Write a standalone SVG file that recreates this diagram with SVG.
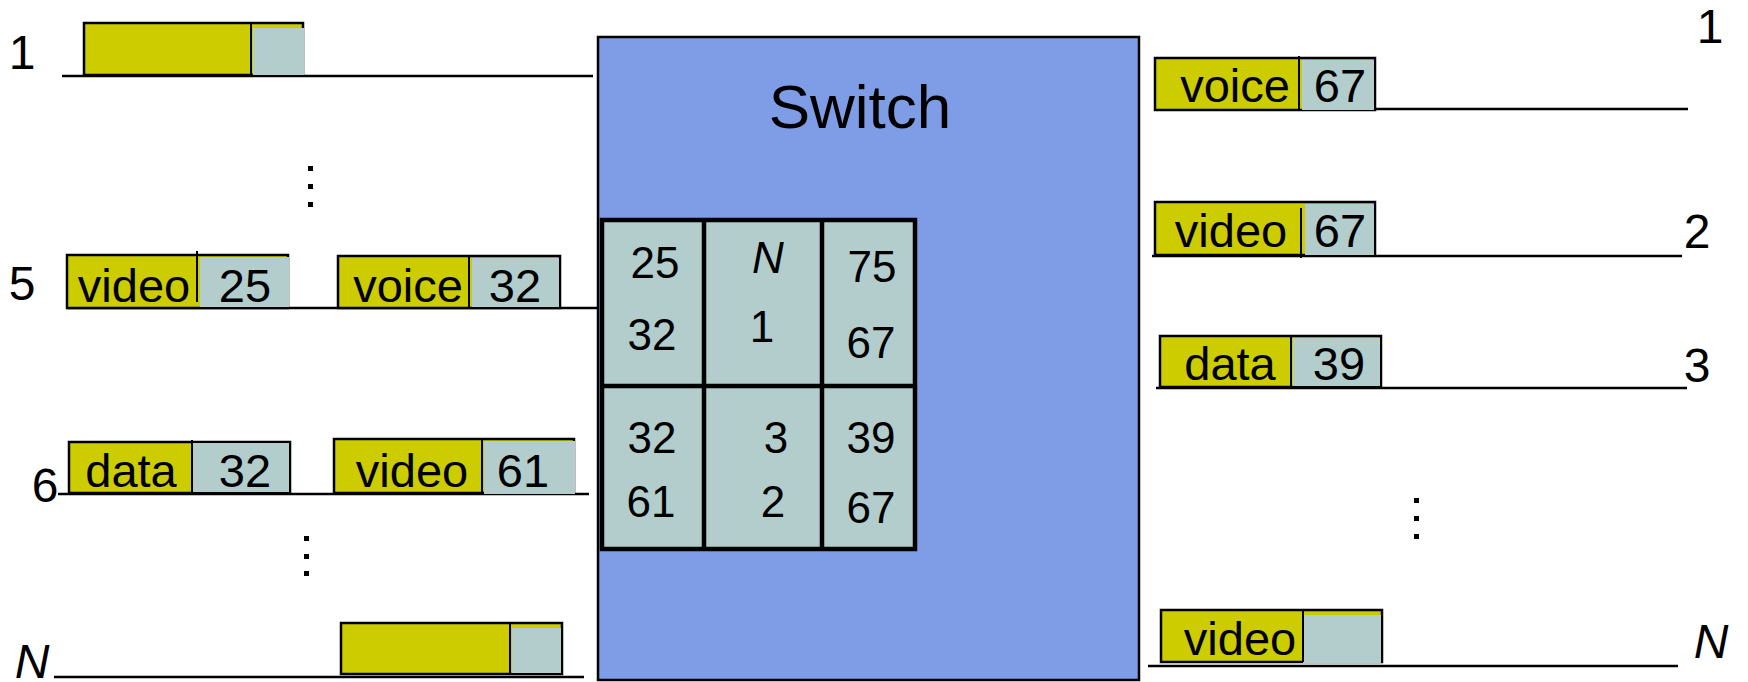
<svg xmlns="http://www.w3.org/2000/svg" width="1748" height="682" viewBox="0 0 1748 682">
<style>
text{font-family:"Liberation Sans",Arial,sans-serif;fill:#000}
.lbl{font-size:48px;text-anchor:middle}
.pt{font-size:47px;text-anchor:middle}
.tt{font-size:44px;text-anchor:middle}
.it{font-style:italic}
.y{fill:#cccc00;stroke:#000;stroke-width:2.5}
.g{fill:#b3cdcd;stroke:none}
.dv{stroke:#000;stroke-width:2}
.ln{stroke:#000;stroke-width:2.5;fill:none}
.dot{fill:#000}
</style>
<rect width="1748" height="682" fill="#fff"/>

<g id="switch">
<rect x="598" y="37" width="541" height="643" fill="#7f9ce6" stroke="#000" stroke-width="2.5"/>
<text x="860" y="128" style="font-size:62px;text-anchor:middle">Switch</text>
</g>

<g id="table">
<rect x="602" y="220" width="313" height="329" fill="#b3cdcd" stroke="#000" stroke-width="4.5"/>
<line x1="704" y1="220" x2="704" y2="549" stroke="#000" stroke-width="4.5"/>
<line x1="822" y1="220" x2="822" y2="549" stroke="#000" stroke-width="4.5"/>
<line x1="602" y1="386" x2="915" y2="386" stroke="#000" stroke-width="4.5"/>
<text class="tt" x="655" y="278">25</text>
<text class="tt" x="652" y="350">32</text>
<text class="tt it" x="768" y="273">N</text>
<text class="tt" x="762" y="342">1</text>
<text class="tt" x="872" y="282">75</text>
<text class="tt" x="871" y="358">67</text>
<text class="tt" x="652" y="453">32</text>
<text class="tt" x="651" y="517">61</text>
<text class="tt" x="776" y="453">3</text>
<text class="tt" x="773" y="517">2</text>
<text class="tt" x="871" y="453">39</text>
<text class="tt" x="871" y="523">67</text>
</g>

<g id="connectors">
<line class="ln" x1="62" y1="76" x2="593" y2="76"/>
<line class="ln" x1="67" y1="308" x2="599" y2="308"/>
<line class="ln" x1="58" y1="494" x2="589" y2="494"/>
<line class="ln" x1="54" y1="677" x2="584" y2="677"/>
<line class="ln" x1="1375" y1="109" x2="1688" y2="109"/>
<line class="ln" x1="1152" y1="256" x2="1682" y2="256"/>
<line class="ln" x1="1156" y1="388" x2="1687" y2="388"/>
<line class="ln" x1="1148" y1="666" x2="1678" y2="666"/>
</g>

<g id="labels">
<text class="lbl" x="22" y="69">1</text>
<text class="lbl" x="22" y="300">5</text>
<text class="lbl" x="45" y="502">6</text>
<text class="lbl it" x="32" y="678">N</text>
<text class="lbl" x="1710" y="43">1</text>
<text class="lbl" x="1697" y="248">2</text>
<text class="lbl" x="1697" y="382">3</text>
<text class="lbl it" x="1711" y="658">N</text>
</g>

<g id="dots">
<rect class="dot" x="308" y="166" width="5" height="5"/>
<rect class="dot" x="308" y="184" width="5" height="5"/>
<rect class="dot" x="308" y="202" width="5" height="5"/>
<rect class="dot" x="304" y="536" width="5" height="5"/>
<rect class="dot" x="304" y="554" width="5" height="5"/>
<rect class="dot" x="304" y="571" width="5" height="5"/>
<rect class="dot" x="1414" y="498" width="5" height="5"/>
<rect class="dot" x="1414" y="516" width="5" height="5"/>
<rect class="dot" x="1414" y="534" width="5" height="5"/>
</g>

<g id="in1">
<rect class="y" x="84" y="23" width="219" height="52"/>
<rect class="g" x="253" y="28" width="51" height="47"/>
<line class="dv" x1="251" y1="23" x2="251" y2="75"/>
</g>

<g id="in5a">
<rect class="y" x="67" y="255" width="221" height="53"/>
<rect class="g" x="200" y="257" width="89" height="50"/>
<line class="dv" x1="197" y1="251" x2="197" y2="302"/>
<text class="pt" x="134" y="302">video</text>
<text class="pt" x="245" y="302">25</text>
</g>

<g id="in5b">
<rect class="y" x="338" y="256" width="222" height="52"/>
<rect class="g" x="472" y="258" width="87" height="49"/>
<line class="dv" x1="469" y1="256" x2="469" y2="308"/>
<text class="pt" x="408" y="302">voice</text>
<text class="pt" x="515" y="302">32</text>
</g>

<g id="in6a">
<rect class="y" x="69" y="442" width="221" height="51"/>
<rect class="g" x="193" y="443" width="96" height="49"/>
<line class="dv" x1="192" y1="440" x2="192" y2="493"/>
<text class="pt" x="131" y="487">data</text>
<text class="pt" x="245" y="487">32</text>
</g>

<g id="in6b">
<rect class="y" x="334" y="439" width="240" height="54"/>
<rect class="g" x="484" y="441" width="91" height="53"/>
<line class="dv" x1="482" y1="439" x2="482" y2="493"/>
<text class="pt" x="412" y="487">video</text>
<text class="pt" x="523" y="487">61</text>
</g>

<g id="inN">
<rect class="y" x="341" y="623" width="221" height="51"/>
<rect class="g" x="512" y="628" width="49" height="45"/>
<line class="dv" x1="510" y1="623" x2="510" y2="674"/>
</g>

<g id="out1">
<rect class="y" x="1155" y="58" width="220" height="52"/>
<rect class="g" x="1302" y="60" width="72" height="50"/>
<line class="dv" x1="1299" y1="56" x2="1299" y2="110"/>
<text class="pt" x="1235" y="102">voice</text>
<text class="pt" x="1340" y="102">67</text>
</g>

<g id="out2">
<rect class="y" x="1155" y="202" width="220" height="53"/>
<rect class="g" x="1305" y="204" width="69" height="51"/>
<line class="dv" x1="1301" y1="208" x2="1301" y2="258"/>
<text class="pt" x="1231" y="247">video</text>
<text class="pt" x="1340" y="247">67</text>
</g>

<g id="out3">
<rect class="y" x="1160" y="336" width="221" height="51"/>
<rect class="g" x="1293" y="338" width="87" height="48"/>
<line class="dv" x1="1291" y1="336" x2="1291" y2="387"/>
<text class="pt" x="1230" y="380">data</text>
<text class="pt" x="1339" y="380">39</text>
</g>

<g id="outN">
<rect class="y" x="1161" y="610" width="221" height="52"/>
<rect class="g" x="1303" y="615" width="78" height="48"/>
<line class="dv" x1="1303" y1="610" x2="1303" y2="662"/>
<text class="pt" x="1240" y="655">video</text>
</g>
</svg>
